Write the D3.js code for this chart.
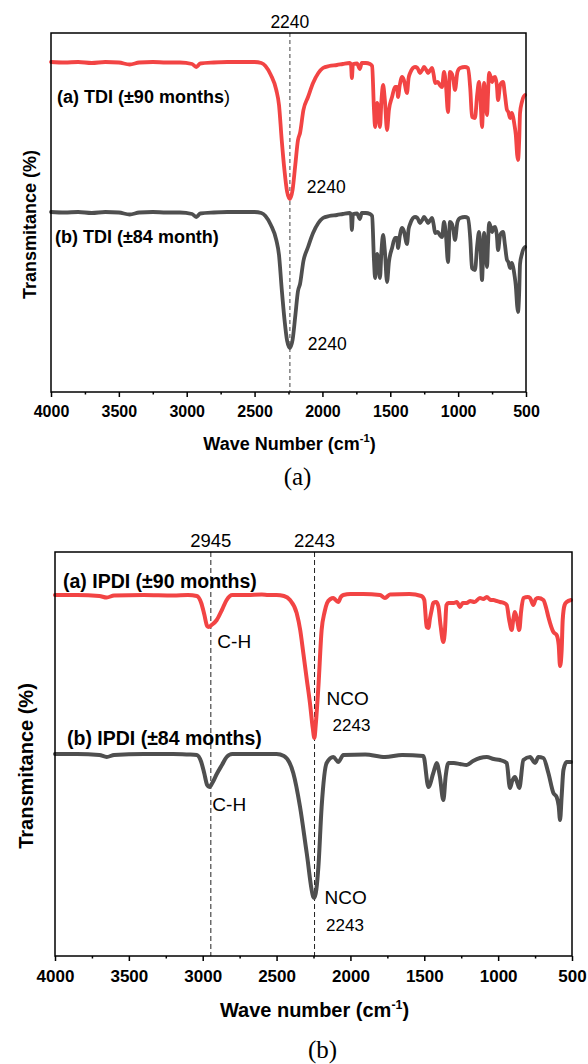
<!DOCTYPE html>
<html>
<head>
<meta charset="utf-8">
<script src="https://cdn.jsdelivr.net/npm/d3@7"></script>
<style>
  body { margin: 0; background: #fff; }
  text { font-family: "Liberation Sans", Arial, sans-serif; }
</style>
</head>
<body>
<div id="chart"></div>
<script>
// FTIR spectra, [wavenumber (cm-1), transmittance (a.u.)]
const tdi90 = [
  [4000,330],[3900,329.5],[3800,330],[3700,329],[3600,330],[3500,329.5],[3420,327.5],[3350,329.5],
  [3250,330],[3150,329.5],[3050,329.5],[2960,328],[2930,325],[2900,328.5],[2800,329.5],[2700,330],
  [2600,330],[2500,330],[2450,329],[2420,326],[2380,317],[2340,302],[2320,287],[2300,252],[2280,222],
  [2260,200],[2240,193],[2220,202],[2200,227],[2180,252],[2165,259],[2140,282],[2106,295],[2069,309],
  [2030,319],[1996,324],[1950,326],[1893,327],[1850,328],[1800,329],[1790,328],[1783,314],[1775,328],
  [1745,328.5],[1725,323],[1710,329],[1680,329],[1650,328],[1634,326],[1620,282],[1612,265],[1597,289],
  [1585,277],[1576,265],[1565,292],[1553,307],[1540,292],[1524,262],[1510,282],[1487,295],[1465,305],
  [1450,305],[1443,295],[1430,307],[1413,315],[1400,312],[1377,299],[1365,314],[1354,319],[1318,325],
  [1300,324],[1281,319],[1260,323],[1251,325],[1235,322],[1222,319],[1205,322],[1192,324],[1180,317],
  [1170,309],[1150,310],[1135,307],[1119,305],[1104,320],[1090,307],[1075,280],[1060,320],[1045,318],
  [1035,312],[1023,302],[1005,320],[986,324],[950,325],[927,324],[910,302],[898,275],[876,274],
  [860,297],[846,310],[835,292],[824,265],[815,292],[809,309],[800,297],[787,277],[780,297],[772,319],
  [760,315],[750,310],[740,314],[728,315],[715,307],[706,292],[690,307],[669,310],[655,297],[640,282],
  [630,280],[617,274],[605,279],[595,275],[585,267],[575,257],[565,237],[559,232],[550,252],[544,279],
  [530,290],[522,294],[507,297]
];
const tdi84 = [
  [4000,180],[3900,179.5],[3800,180],[3700,179],[3600,180],[3500,179.5],[3420,177.5],[3350,179.5],
  [3250,180],[3150,179.5],[3050,179.5],[2960,178],[2930,175],[2900,178.5],[2800,179.5],[2700,180],
  [2600,180],[2500,180],[2450,179],[2420,176],[2380,167],[2340,152],[2320,137],[2300,103],[2280,73],
  [2260,51],[2240,44],[2220,52],[2200,76],[2180,101],[2165,108],[2140,131],[2106,145],[2069,159],
  [2030,169],[1996,174],[1950,176],[1893,177],[1850,178],[1800,179],[1790,178],[1783,162],[1775,178],
  [1745,178.5],[1725,173],[1710,179],[1680,179],[1650,178],[1634,176],[1620,131],[1612,114],[1597,138],
  [1585,126],[1576,114],[1565,141],[1553,157],[1540,141],[1524,110],[1510,130],[1487,144],[1465,154],
  [1450,154],[1443,144],[1430,156],[1413,164],[1400,161],[1377,148],[1365,163],[1354,168],[1318,175],
  [1300,174],[1281,169],[1260,173],[1251,175],[1235,172],[1222,169],[1205,172],[1192,174],[1180,167],
  [1170,159],[1150,160],[1135,157],[1119,155],[1104,170],[1090,157],[1075,130],[1060,170],[1045,168],
  [1035,162],[1023,152],[1005,170],[986,174],[950,175],[927,174],[910,152],[898,124],[876,122],
  [860,146],[846,160],[835,142],[824,112],[815,142],[809,159],[800,147],[787,125],[780,147],[772,169],
  [760,165],[750,160],[740,164],[728,165],[715,157],[706,142],[690,157],[669,160],[655,147],[640,132],
  [630,130],[617,124],[605,129],[595,125],[585,117],[575,106],[565,86],[559,80],[550,100],[544,128],
  [530,138],[522,142],[507,145]
];
const ipdi90 = [
  [4000,361],[3850,361],[3700,360],[3650,358.5],[3600,360.5],[3400,361],[3200,360.5],[3100,361],
  [3040,360],[3010,353],[2990,342],[2970,330],[2960,329],[2940,331],[2905,336],[2870,346],[2838,356],
  [2800,361],[2700,361],[2600,361.5],[2556,361],[2500,361],[2450,360],[2409,356],[2364,343],[2340,326],
  [2319,303],[2295,276],[2274,253],[2255,228],[2244,218],[2235,231],[2217,269],[2195,326],[2175,344],
  [2158,353],[2135,357],[2116,358],[2100,356],[2082,354],[2065,359],[2048,361],[2000,362],[1913,362],
  [1800,361],[1766,358],[1732,361.5],[1600,362],[1520,360],[1500,356],[1484,329],[1472,328],[1461,338],
  [1450,346],[1439,353],[1420,354],[1405,350],[1390,331],[1371,314],[1360,326],[1350,351],[1337,353],
  [1300,353],[1280,354],[1258,349],[1240,353],[1213,353],[1190,355],[1160,354],[1123,358],[1100,357],
  [1077,359],[1050,356],[1032,356],[1010,355],[987,354],[960,353],[942,351],[925,336],[908,326],
  [898,336],[886,344],[872,336],[857,326],[845,344],[829,358],[800,359],[784,358],[762,351],[745,357],
  [728,358],[694,356],[675,348],[660,339],[626,324],[604,321],[590,311],[581,290],[570,306],[563,336],
  [550,351],[536,354],[507,356]
];
const ipdi84 = [
  [4000,202],[3850,202],[3700,201],[3650,199],[3600,201],[3400,202],[3200,202],[3100,201.5],
  [3040,201],[3010,194],[2990,183],[2970,171],[2955,169],[2935,173],[2905,182],[2870,191],[2838,199],
  [2800,202],[2600,202],[2500,202],[2450,200],[2387,183],[2341,149],[2296,103],[2251,59],[2244,58],
  [2217,89],[2195,149],[2161,193],[2116,199],[2082,194],[2048,201],[1900,201.5],[1766,199],[1650,201],
  [1506,200],[1472,169],[1439,183],[1416,193],[1395,180],[1371,156],[1355,180],[1337,193],[1300,193],
  [1258,192],[1213,191],[1170,195],[1123,198],[1077,199],[1030,197],[987,196],[942,193],[920,168],
  [905,175],[886,179],[870,173],[857,168],[829,196],[784,199],[750,193],[728,199],[694,198],[660,183],
  [626,163],[604,159],[590,150],[581,136],[570,160],[558,186],[536,194],[507,194]
];

const majorTicks = [4000, 3500, 3000, 2500, 2000, 1500, 1000, 500];
const minorTicks = [3750, 3250, 2750, 2250, 1750, 1250, 750];

const RED = "#f24444";
const GRAY = "#4f4f4f";

const svg = d3.select("#chart").append("svg")
  .attr("width", 588)
  .attr("height", 1064)
  .style("background", "#fff");

const panels = [
  {
    left: 51, top: 33, right: 526, bottom: 392, yMax: 359,
    tickFont: 16, titleFont: 18, lineWidth: 3.8,
    xTitle: "Wave Number (cm", yTitleX: 30, caption: "(a)", captionY: 485,
    series: [{ data: tdi90, color: RED }, { data: tdi84, color: GRAY }],
    guides: [2240], guideColor: "#808080", guideDash: "4,3", guideWidth: 1.5, guideFont: 17.5
  },
  {
    left: 55, top: 552, right: 572, bottom: 956, yMax: 404,
    tickFont: 17, titleFont: 20, lineWidth: 4,
    xTitle: "Wave number (cm", yTitleX: 26, caption: "(b)", captionY: 1058,
    series: [{ data: ipdi90, color: RED }, { data: ipdi84, color: GRAY }],
    guides: [2945, 2243], guideColor: "#222", guideDash: "5,3", guideWidth: 1, guideFont: 18.5
  }
];

function drawPanel(p) {
  const x = d3.scaleLinear().domain([4000, 500]).range([p.left, p.right]);
  const y = d3.scaleLinear().domain([0, p.yMax]).range([p.bottom, p.top]);
  const g = svg.append("g");
  p.x = x; p.y = y; p.g = g;

  // dashed guide lines at the peak positions
  p.guides.forEach((wn) => {
    g.append("line")
      .attr("x1", x(wn)).attr("x2", x(wn))
      .attr("y1", p.top).attr("y2", p.bottom)
      .attr("stroke", p.guideColor)
      .attr("stroke-width", p.guideWidth)
      .attr("stroke-dasharray", p.guideDash);
    g.append("text")
      .attr("x", x(wn)).attr("y", p.top - 5)
      .attr("text-anchor", "middle")
      .attr("font-size", p.guideFont)
      .text(wn);
  });

  const line = d3.line()
    .x((d) => x(d[0]))
    .y((d) => y(d[1]))
    .curve(d3.curveMonotoneX);

  p.series.forEach((s) => {
    g.append("path")
      .datum(s.data)
      .attr("d", line)
      .attr("fill", "none")
      .attr("stroke", s.color)
      .attr("stroke-width", p.lineWidth)
      .attr("stroke-linejoin", "round")
      .attr("stroke-linecap", "round");
  });

  // frame
  g.append("rect")
    .attr("x", p.left).attr("y", p.top)
    .attr("width", p.right - p.left).attr("height", p.bottom - p.top)
    .attr("fill", "none")
    .attr("stroke", "#000")
    .attr("stroke-width", 1.5);

  // major and minor ticks
  const major = g.append("g")
    .attr("transform", `translate(0,${p.bottom})`)
    .call(d3.axisBottom(x).tickValues(majorTicks).tickSize(5).tickPadding(p.tickFont * 0.55).tickFormat(d3.format("d")));
  major.select(".domain").remove();
  major.selectAll(".tick line").attr("stroke-width", 1.5);
  major.selectAll("text")
    .attr("font-size", p.tickFont)
    .attr("font-weight", "bold")
    .attr("fill", "#000")
    .style("font-family", '"Liberation Sans", Arial, sans-serif');

  const minor = g.append("g")
    .attr("transform", `translate(0,${p.bottom})`)
    .call(d3.axisBottom(x).tickValues(minorTicks).tickSize(2.5).tickFormat(""));
  minor.select(".domain").remove();
  minor.selectAll(".tick line").attr("stroke-width", 1.5);

  // x title with superscript
  const xt = g.append("text")
    .attr("x", (p.left + p.right) / 2 + 1)
    .attr("y", p.bottom + p.tickFont * 3.6)
    .attr("text-anchor", "middle")
    .attr("font-weight", "bold")
    .attr("font-size", p.titleFont);
  xt.append("tspan").text(p.xTitle);
  xt.append("tspan").attr("dy", -p.titleFont * 0.4).attr("font-size", p.titleFont * 0.62).text("-1");
  xt.append("tspan").attr("dy", p.titleFont * 0.4).text(")");

  // y title
  g.append("text")
    .attr("transform", `translate(${p.yTitleX},${(p.top + p.bottom) / 2 + 12}) rotate(-90)`)
    .attr("text-anchor", "middle")
    .attr("dy", "0.35em")
    .attr("font-weight", "bold")
    .attr("font-size", p.titleFont)
    .text("Transmitance (%)");

  // caption
  g.append("text")
    .attr("x", (p.left + p.right) / 2 + 9)
    .attr("y", p.captionY)
    .attr("text-anchor", "middle")
    .attr("font-size", 25)
    .style("font-family", '"Liberation Serif", "Times New Roman", serif')
    .text(p.caption);
}

panels.forEach(drawPanel);

// panel (a) labels
const pa = panels[0];
const la = pa.g.append("text")
  .attr("x", pa.left + 6).attr("y", pa.y(tdi90[0][1]) + 41)
  .attr("font-size", 18).attr("font-weight", "bold");
la.append("tspan").text("(a) TDI (\u00b190 months");
la.append("tspan").attr("font-weight", "normal").text(")");
pa.g.append("text")
  .attr("x", pa.left + 4).attr("y", pa.y(tdi84[0][1]) + 31)
  .attr("font-size", 18).attr("font-weight", "bold")
  .text("(b) TDI (\u00b184 month)");
pa.g.append("text")
  .attr("x", pa.x(2240) + 17).attr("y", pa.y(193) - 6)
  .attr("font-size", 17.5).text("2240");
pa.g.append("text")
  .attr("x", pa.x(2240) + 18).attr("y", pa.y(44) + 2)
  .attr("font-size", 17.5).text("2240");

// panel (b) labels
const pb = panels[1];
pb.g.append("text")
  .attr("x", pb.left + 8).attr("y", pb.y(ipdi90[0][1]) - 7)
  .attr("font-size", 19.5).attr("font-weight", "bold")
  .text("(a) IPDI (\u00b190 months)");
pb.g.append("text")
  .attr("x", pb.left + 12).attr("y", pb.y(ipdi84[0][1]) - 9)
  .attr("font-size", 19.5).attr("font-weight", "bold")
  .text("(b) IPDI (\u00b184 months)");
pb.g.append("text")
  .attr("x", pb.x(2945) + 6.5).attr("y", pb.y(329) + 21)
  .attr("font-size", 19).text("C-H");
pb.g.append("text")
  .attr("x", pb.x(2945) + 1.5).attr("y", pb.y(169) + 24)
  .attr("font-size", 19).text("C-H");
pb.g.append("text")
  .attr("x", pb.x(2243) + 12).attr("y", pb.y(218) - 33)
  .attr("font-size", 19).text("NCO");
pb.g.append("text")
  .attr("x", pb.x(2243) + 18).attr("y", pb.y(218) - 7)
  .attr("font-size", 17).text("2243");
pb.g.append("text")
  .attr("x", pb.x(2243) + 10).attr("y", pb.y(58) + 6)
  .attr("font-size", 19).text("NCO");
pb.g.append("text")
  .attr("x", pb.x(2243) + 11.5).attr("y", pb.y(58) + 33)
  .attr("font-size", 17).text("2243");
</script>
</body>
</html>
